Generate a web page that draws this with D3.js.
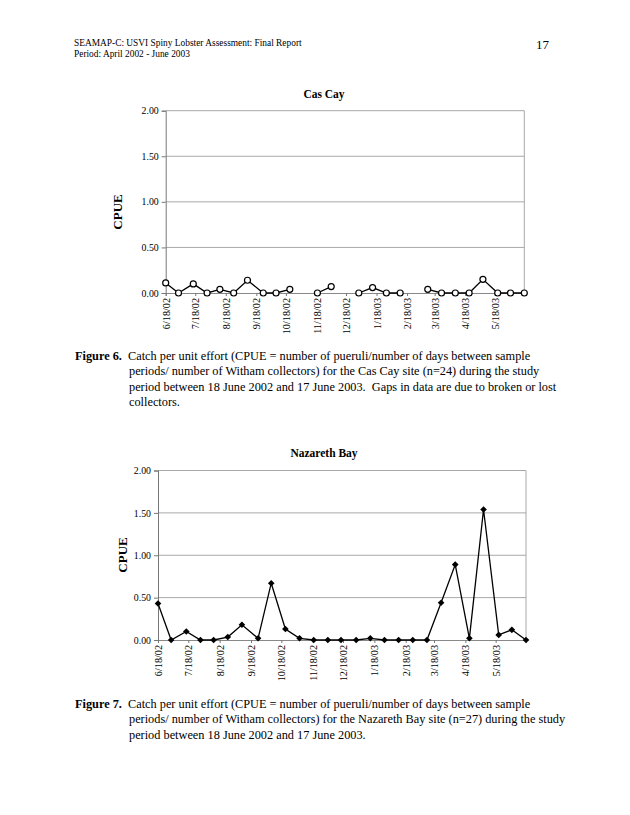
<!DOCTYPE html>
<html>
<head>
<meta charset="utf-8">
<script src="https://cdn.jsdelivr.net/npm/d3@7/dist/d3.min.js"></script>
<style>
  html, body { margin: 0; padding: 0; background: #fff; }
  svg { display: block; }
  text { font-family: "Liberation Serif", "Times New Roman", serif; fill: #000; }
</style>
</head>
<body>
<svg id="page" width="630" height="815"></svg>
<script>
// ---- data ----
const sampleDates = ["2002-06-18","2002-07-01","2002-07-16","2002-07-30","2002-08-12","2002-08-26",
  "2002-09-09","2002-09-25","2002-10-08","2002-10-22","2002-11-05","2002-11-19","2002-12-03",
  "2002-12-16","2002-12-31","2003-01-14","2003-01-28","2003-02-11","2003-02-25","2003-03-11",
  "2003-03-25","2003-04-08","2003-04-22","2003-05-06","2003-05-21","2003-06-03","2003-06-17"];
const casCayCPUE = [0.11,0,0.10,0,0.04,0,0.14,0,0,0.04,null,0,0.07,null,0,0.06,0,0,null,
  0.04,0,0,0,0.15,0,0,0];
const nazarethCPUE = [0.43,0,0.10,0,0,0.035,0.18,0.02,0.67,0.13,0.02,0,0,0,0,0.02,0,0,0,0,
  0.44,0.89,0.02,1.54,0.06,0.12,0];
const xTickDates = ["2002-06-18","2002-07-18","2002-08-18","2002-09-18","2002-10-18","2002-11-18",
  "2002-12-18","2003-01-18","2003-02-18","2003-03-18","2003-04-18","2003-05-18"];
const yTicks = [0, 0.5, 1.0, 1.5, 2.0];
const dateDomain = ["2002-06-18","2003-06-17"];

const headerLines = ["SEAMAP-C: USVI Spiny Lobster Assessment: Final Report", "Period: April 2002 - June 2003"];
const pageNumber = "17";
const caption6 = ["Catch per unit effort (CPUE = number of pueruli/number of days between sample",
  "periods/ number of Witham collectors) for the Cas Cay site (n=24) during the study",
  "period between 18 June 2002 and 17 June 2003.  Gaps in data are due to broken or lost",
  "collectors."];
const caption7 = ["Catch per unit effort (CPUE = number of pueruli/number of days between sample",
  "periods/ number of Witham collectors) for the Nazareth Bay site (n=27) during the study",
  "period between 18 June 2002 and 17 June 2003."];

const parse = d3.timeParse("%Y-%m-%d");
const fmtTick = d => `${d.getMonth()+1}/${d.getDate()}/${d3.timeFormat("%y")(d)}`;

const svg = d3.select("#page");

// ---- header ----
svg.append("text").attr("x", 74).attr("y", 46).attr("font-size", 9.4).text(headerLines[0]);
svg.append("text").attr("x", 74).attr("y", 57).attr("font-size", 9.4).text(headerLines[1]);
svg.append("text").attr("x", 549).attr("y", 49).attr("font-size", 13).attr("text-anchor", "end").text(pageNumber);

function drawChart(opt) {
  const g = svg.append("g");
  const x = d3.scaleTime().domain(dateDomain.map(parse)).range([opt.left, opt.right]);
  const y = d3.scaleLinear().domain([0, 2]).range([opt.bottom, opt.top]);

  // gridlines
  g.selectAll("line.grid").data(yTicks.filter(v => v > 0)).join("line")
    .attr("x1", opt.left).attr("x2", opt.right)
    .attr("y1", d => y(d)).attr("y2", d => y(d))
    .attr("stroke", "#a8a8a8").attr("stroke-width", 1);
  // right border
  g.append("line").attr("x1", opt.right).attr("x2", opt.right)
    .attr("y1", opt.top).attr("y2", opt.bottom).attr("stroke", "#a8a8a8");

  // y axis
  const yAxis = d3.axisLeft(y).tickValues(yTicks).tickFormat(d3.format(".2f")).tickSize(4).tickPadding(3);
  const ya = g.append("g").attr("transform", `translate(${opt.left},0)`).call(yAxis);
  ya.select(".domain").attr("stroke", "#777");
  ya.selectAll(".tick line").attr("stroke", "#777");
  ya.selectAll("text").attr("font-size", 9.8).attr("font-family", "Liberation Serif").attr("fill", "#000");

  // x axis
  const xAxis = d3.axisBottom(x).tickValues(xTickDates.map(parse)).tickFormat(fmtTick).tickSize(3);
  const xa = g.append("g").attr("transform", `translate(0,${opt.bottom})`).call(xAxis);
  xa.select(".domain").attr("stroke", "#888");
  xa.selectAll(".tick line").attr("stroke", "#777");
  xa.selectAll("text").attr("font-size", 10.2).attr("font-family", "Liberation Serif").attr("fill", "#000")
    .attr("text-anchor", "end").attr("transform", "rotate(-90)")
    .attr("x", -5).attr("y", 0).attr("dy", "0.35em");

  // line
  const pts = sampleDates.map((d, i) => ({date: parse(d), v: opt.values[i]}));
  const line = d3.line().defined(d => d.v !== null).x(d => x(d.date)).y(d => y(d.v));
  g.append("path").datum(pts).attr("d", line).attr("fill", "none")
    .attr("stroke", "#000").attr("stroke-width", 1.3).attr("stroke-linejoin", "miter");

  const valid = pts.filter(d => d.v !== null);
  if (opt.marker === "circle") {
    g.selectAll("circle.m").data(valid).join("circle")
      .attr("cx", d => x(d.date)).attr("cy", d => y(d.v)).attr("r", 3)
      .attr("fill", "#fff").attr("stroke", "#000").attr("stroke-width", 1.2);
  } else {
    const sym = d3.symbol().type(d3.symbolDiamond2).size(28);
    g.selectAll("path.m").data(valid).join("path")
      .attr("transform", d => `translate(${x(d.date)},${y(d.v)})`)
      .attr("d", sym).attr("fill", "#000");
  }

  // title
  g.append("text").attr("x", opt.titleX).attr("y", opt.titleY).attr("text-anchor", "middle")
    .attr("font-size", 11.5).attr("font-weight", "bold").text(opt.title);
  // y label
  g.append("text").attr("transform", `translate(${opt.ylabX},${opt.ylabY}) rotate(-90)`)
    .attr("text-anchor", "middle").attr("font-size", 13).attr("font-weight", "bold").text("CPUE");
}

drawChart({left: 165.7, right: 524.3, top: 110.7, bottom: 293, values: casCayCPUE, marker: "circle",
  title: "Cas Cay", titleX: 324, titleY: 98, ylabX: 122, ylabY: 212});
drawChart({left: 158, right: 526, top: 470.5, bottom: 640, values: nazarethCPUE, marker: "diamond",
  title: "Nazareth Bay", titleX: 324, titleY: 457, ylabX: 127, ylabY: 555});

function caption(label, lines, y0) {
  const fs = 12.3, lh = 15.3;
  svg.append("text").attr("x", 75).attr("y", y0).attr("font-size", fs).attr("font-weight", "bold").text(label);
  lines.forEach((t, i) => {
    svg.append("text").attr("x", i === 0 ? 128 : 129).attr("y", y0 + i * lh)
      .attr("font-size", fs).attr("xml:space", "preserve").style("white-space", "pre").text(t);
  });
}
caption("Figure 6.", caption6, 360);
caption("Figure 7.", caption7, 708);
</script>
</body>
</html>
